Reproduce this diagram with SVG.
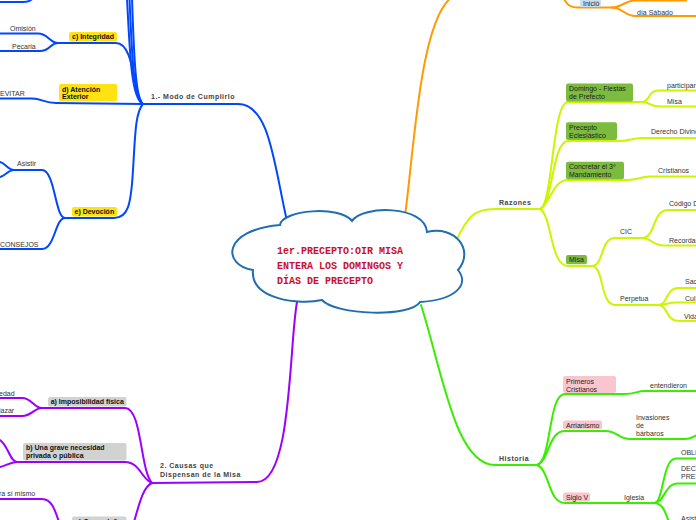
<svg xmlns="http://www.w3.org/2000/svg" width="696" height="520" viewBox="0 0 696 520">
<style>
.c{fill:none;stroke-width:2;stroke-linecap:round;stroke-linejoin:round}
.bl{stroke:#0047ff}.pu{stroke:#9b00ff}.or{stroke:#ff9a00}.yg{stroke:#ccf500}.gr{stroke:#38ee00}
text{font-family:"Liberation Sans",Arial,sans-serif;font-size:7px;fill:#333}
.m{font-weight:bold;letter-spacing:0.5px;fill:#444}
.k{font-weight:bold;fill:#111}
.t{fill:#222}
.yb{fill:#ffe212}.gy{fill:#d2d2d2}.gb{fill:#7cbb3e}.pk{fill:#f9c6d0}.lb{fill:#c9dff4}
.cloud{fill:#fff;stroke:#1f6db3;stroke-width:2}
.ct{font-family:"Liberation Mono","Courier New",monospace;font-size:10px;font-weight:bold;fill:#c8102e}
</style>
<g id="connectors">
<!-- blue -->
<path class="c bl" d="M287,221 C274,165 270,104 238,104 L143,104"/>
<path class="c bl" d="M143,104 C132,100 130,60 127,-2"/>
<path class="c bl" d="M143,104 C134,100 132,60 129.5,-2"/>
<path class="c bl" d="M143,104 C136,100 134,60 132,-2"/>
<path class="c bl" d="M0,2 L23,2 C28,2 31,1 33,-2"/>
<path class="c bl" d="M143,104 C133,95 135,43 116,43 L58,43"/>
<path class="c bl" d="M0,33.5 L38,33.5 C48,33.5 50,43 58,43"/>
<path class="c bl" d="M0,51 L40,51 C50,51 50,43 58,43"/>
<path class="c bl" d="M0,98.5 L32,98.5 C42,98.5 44,103 56,103 L143,104"/>
<path class="c bl" d="M143,104 C135,112 135,140 133,170 C131,205 128,218 114,218 L65,218"/>
<path class="c bl" d="M14,170 L42,170 C55,170 55,218 65,218"/>
<path class="c bl" d="M14,170 C8,170 5,163 0,162"/>
<path class="c bl" d="M14,170 C8,170 5,176 0,177"/>
<path class="c bl" d="M0,249 L42,249 C55,249 55,218 65,218"/>
<!-- purple -->
<path class="c pu" d="M297,302 C289,345 292,482 257,482 L152,483"/>
<path class="c pu" d="M152,483 C140,470 142,408 125,408 L42,408"/>
<path class="c pu" d="M0,398 L22,398 C32,398 34,408 42,408"/>
<path class="c pu" d="M0,416 L22,416 C32,416 34,408 42,408"/>
<path class="c pu" d="M152,483 C142,480 140,462 125,462 L17,462"/>
<path class="c pu" d="M0,440 C8,445 10,462 17,462"/>
<path class="c pu" d="M17,462 C10,462 6,466 0,467"/>
<path class="c pu" d="M152,483 C142,487 138,510 133,525"/>
<path class="c pu" d="M0,499 L42,499 C52,499 55,510 60,525"/>
<!-- orange -->
<path class="c or" d="M405,216 C414,150 420,20 452,-3"/>
<path class="c or" d="M563,-3 C567,5 570,7.5 578,7.5 L612,7.5"/>
<path class="c or" d="M612,7.5 C622,7.5 625,0.5 635,0.5 L686,0.5"/>
<path class="c or" d="M612,7.5 C622,7.5 625,16 635,16 L697,16"/>
<!-- yellow-green -->
<path class="c yg" d="M455,243 C468,215 475,209 495,209 L540,209"/>
<path class="c yg" d="M540,209 C553,205 552,102 568,102 L642,102"/>
<path class="c yg" d="M642,102 C650,102 648,90.5 658,90.5 L697,90.5"/>
<path class="c yg" d="M642,102 C650,102 650,106.5 660,106.5 L697,106.5"/>
<path class="c yg" d="M540,209 C553,205 552,141 568,141 L620,141 C630,141 632,138 642,138 L697,138"/>
<path class="c yg" d="M540,209 C550,205 552,180 568,180 L628,180 C638,180 640,176.5 650,176.5 L697,176.5"/>
<path class="c yg" d="M540,209 C552,215 550,266 568,266 L592,266"/>
<path class="c yg" d="M592,266 C604,266 600,238 615,238 L642,238"/>
<path class="c yg" d="M592,266 C604,266 600,305 615,305 L658,305"/>
<path class="c yg" d="M642,238 C656,238 652,210 668,210 L697,210"/>
<path class="c yg" d="M642,238 C652,238 652,245.5 664,245.5 L697,245.5"/>
<path class="c yg" d="M658,305 C668,305 666,288 678,288 L697,288"/>
<path class="c yg" d="M658,305 C666,305 668,302.5 676,302.5 L697,302.5"/>
<path class="c yg" d="M658,305 C668,305 666,321 678,321 L697,321"/>
<!-- green -->
<path class="c gr" d="M421,305 C442,370 455,465 495,465 L537,465"/>
<path class="c gr" d="M537,465 C552,460 548,394 565,394 L625,394 C635,394 637,391 645,391 L697,391"/>
<path class="c gr" d="M537,465 C550,460 548,431 565,431 L605,431 C618,431 618,439 630,439 L685,439 C690,439 693,437 697,435"/>
<path class="c gr" d="M537,465 C550,470 548,503 565,503 L654,503"/>
<path class="c gr" d="M654,503 C664,503 662,458.5 676,458.5 L697,458.5"/>
<path class="c gr" d="M654,503 C665,503 664,483.5 678,483.5 L697,483.5"/>
<path class="c gr" d="M654,503 C664,503 666,515 670,525"/>
</g>
<g id="center">
<path class="cloud" d="M280,225 C282,210 340,205 352,221 C362,205 425,205 427,232 C455,225 475,250 458,270 C470,285 455,300 420,302 C410,318 335,315 322,300 C300,305 250,300 253,270 C222,265 222,230 280,225 Z"/>
<text class="ct" x="277" y="254">1er.PRECEPTO:OIR MISA</text>
<text class="ct" x="277" y="269">ENTERA LOS DOMINGOS Y</text>
<text class="ct" x="277" y="284">DÍAS DE PRECEPTO</text>
</g>
<g id="modo"><text class="m" x="151" y="99">1.- Modo de Cumplirlo</text></g>
<g id="integridad"><rect class="yb" x="69" y="32" width="48" height="9.5" rx="2"/><text class="k" x="72" y="39.2">c) Integridad</text></g>
<g id="omision"><text x="10" y="31">Omisión</text></g>
<g id="pecaria"><text x="12" y="48.5">Pecaria</text></g>
<g id="atencion"><rect class="yb" x="59" y="84" width="58" height="17.5" rx="2"/><text class="k" x="62" y="91.5">d) Atención</text><text class="k" x="62" y="99">Exterior</text></g>
<g id="evitar"><text x="0" y="95.5">EVITAR</text></g>
<g id="devocion"><rect class="yb" x="72" y="207" width="45" height="9.5" rx="2"/><text class="k" x="74.5" y="214">e) Devoción</text></g>
<g id="asistir"><text x="17" y="166">Asistir</text></g>
<g id="consejos"><text x="0" y="246.5">CONSEJOS</text></g>
<g id="causas"><text class="m" x="160" y="468">2. Causas que</text><text class="m" x="160" y="477">Dispensan de la Misa</text></g>
<g id="imposibilidad"><rect class="gy" x="48" y="397" width="78.5" height="9.5" rx="2"/><text class="k" x="50.7" y="404.3">a) Imposibilidad física</text></g>
<g id="edad"><text x="-1" y="396">edad</text></g>
<g id="lazar"><text x="-1" y="413">lazar</text></g>
<g id="necesidad"><rect class="gy" x="23" y="443" width="103.5" height="17.5" rx="2"/><text class="k" x="26" y="449.8">b) Una grave necesidad</text><text class="k" x="26" y="457.8">privada o pública</text></g>
<g id="mismo"><text x="-1" y="495.5">ra sí mismo</text></g>
<g id="dano"><rect class="gy" x="72" y="516.5" width="54.5" height="12" rx="2"/><text class="k" x="75" y="523.5">c) Grave daño</text></g>
<g id="inicio"><rect class="lb" x="580" y="-5" width="21" height="12" rx="2"/><text class="t" x="583" y="5.8">Inició</text></g>
<g id="sabado"><text x="637" y="14.5">día Sábado</text></g>
<g id="razones"><text class="m" x="499" y="205">Razones</text></g>
<g id="domingo"><rect class="gb" x="566" y="83.5" width="67" height="18" rx="2"/><text class="t" x="569" y="90.8">Domingo - Fiestas</text><text class="t" x="569" y="98.5">de Prefecto</text></g>
<g id="participar"><text x="667" y="87.5">participar</text></g>
<g id="misa2"><text x="667" y="104.3">Misa</text></g>
<g id="eclesiastico"><rect class="gb" x="566" y="122.3" width="51" height="17.7" rx="2"/><text class="t" x="569" y="129.8">Precepto</text><text class="t" x="569" y="137.5">Eclesiástico</text></g>
<g id="divino"><text x="651" y="134">Derecho Divino</text></g>
<g id="concretar"><rect class="gb" x="566" y="161.7" width="58" height="17.6" rx="2"/><text class="t" x="569" y="169.2">Concretar el 3º</text><text class="t" x="569" y="176.9">Mandamiento</text></g>
<g id="cristianos"><text x="658" y="172.5">Cristianos</text></g>
<g id="misa"><rect class="gb" x="566" y="255" width="21" height="9.3" rx="2"/><text class="t" x="569" y="262">Misa</text></g>
<g id="cic"><text x="620" y="234">CIC</text></g>
<g id="codigo"><text x="669" y="206">Código D</text></g>
<g id="recordar"><text x="669" y="243">Recordar</text></g>
<g id="perpetua"><text x="620" y="301">Perpetua</text></g>
<g id="sac"><text x="685" y="283.5">Sac</text></g>
<g id="cul"><text x="685" y="300.5">Cul</text></g>
<g id="vida"><text x="684" y="318.5">Vida</text></g>
<g id="historia"><text class="m" x="499" y="460.5">Historia</text></g>
<g id="primeros"><rect class="pk" x="563" y="376" width="53" height="17" rx="2"/><text class="t" x="566" y="384">Primeros</text><text class="t" x="566" y="391.8">Cristianos</text></g>
<g id="entendieron"><text x="650" y="388">entendieron</text></g>
<g id="arrianismo"><rect class="pk" x="563" y="420.5" width="39" height="9" rx="2"/><text class="t" x="566" y="427.8">Arrianismo</text></g>
<g id="invasiones"><text x="636" y="420">Invasiones</text><text x="636" y="428">de</text><text x="636" y="436">bárbaros</text></g>
<g id="siglo"><rect class="pk" x="563" y="492.5" width="27" height="9.3" rx="2"/><text class="t" x="566" y="499.6">Siglo V</text></g>
<g id="iglesia"><text x="624" y="500">Iglesia</text></g>
<g id="obli"><text x="681" y="455">OBLI</text></g>
<g id="deci"><text x="681" y="471">DECI</text><text x="681" y="479">PRES</text></g>
<g id="asist"><text x="681" y="521">Asist</text></g>
</svg>
